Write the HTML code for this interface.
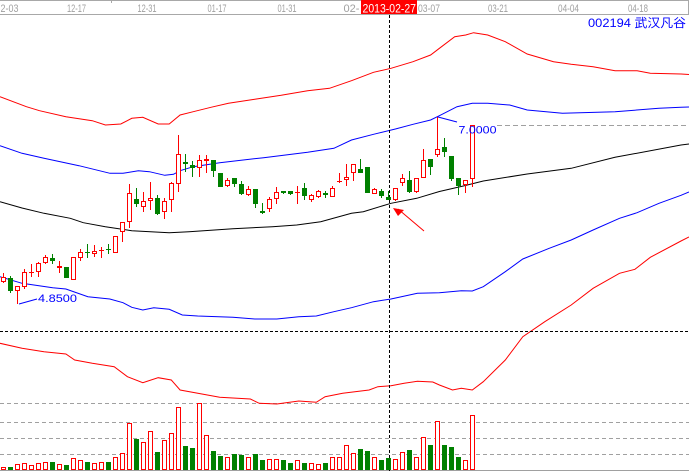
<!DOCTYPE html>
<html><head><meta charset="utf-8"><style>
html,body{margin:0;padding:0;background:#fff;}
svg{display:block;}
</style></head><body>
<svg width="689" height="471" viewBox="0 0 689 471" xmlns="http://www.w3.org/2000/svg">
<rect x="0" y="0" width="689" height="471" fill="#fff"/>
<line x1="0" y1="0.5" x2="689" y2="0.5" stroke="#a8a8a8"/>
<line x1="0" y1="14.5" x2="689" y2="14.5" stroke="#a8a8a8"/>
<line x1="688.5" y1="0" x2="688.5" y2="14" stroke="#a8a8a8"/>
<line x1="111.5" y1="0" x2="111.5" y2="3" stroke="#a8a8a8"/>
<g font-family="Liberation Sans, sans-serif" font-size="11" fill="#a0a0a0">
<text x="0.5" y="12" textLength="18" lengthAdjust="spacingAndGlyphs">2-03</text>
<text x="67" y="12" textLength="19" lengthAdjust="spacingAndGlyphs">12-17</text>
<text x="137.5" y="12" textLength="19" lengthAdjust="spacingAndGlyphs">12-31</text>
<text x="207.5" y="12" textLength="19" lengthAdjust="spacingAndGlyphs">01-17</text>
<text x="277.5" y="12" textLength="19" lengthAdjust="spacingAndGlyphs">01-31</text>
<text x="343.5" y="12" textLength="16" lengthAdjust="spacingAndGlyphs">02-</text>
<text x="418" y="12" textLength="22" lengthAdjust="spacingAndGlyphs">03-07</text>
<text x="488" y="12" textLength="20" lengthAdjust="spacingAndGlyphs">03-21</text>
<text x="558" y="12" textLength="21" lengthAdjust="spacingAndGlyphs">04-04</text>
<text x="628" y="12" textLength="20" lengthAdjust="spacingAndGlyphs">04-18</text>
</g>
<rect x="361" y="0" width="56" height="14" fill="#ff0000"/>
<text x="362.5" y="12.5" font-family="Liberation Sans, sans-serif" font-size="12" fill="#fff" textLength="53.5" lengthAdjust="spacingAndGlyphs">2013-02-27</text>
<text x="588" y="27" font-family="Liberation Sans, 'Noto Sans CJK SC', sans-serif" font-size="12" fill="#0000ff" textLength="98" lengthAdjust="spacingAndGlyphs">002194 武汉凡谷</text>

<g stroke="#a0a0a0" stroke-dasharray="4,3" shape-rendering="crispEdges">
<line x1="0" y1="403.5" x2="689" y2="403.5"/>
<line x1="0" y1="422.5" x2="689" y2="422.5"/>
<line x1="0" y1="438.5" x2="689" y2="438.5"/>
<line x1="0" y1="454.5" x2="689" y2="454.5"/>
</g>
<line x1="0" y1="470.5" x2="689" y2="470.5" stroke="#a0a0a0"/>

<g fill="none" stroke-width="1">
<polyline stroke="#ff0000" points="0,96.7 26.4,106.7 39.5,110.7 65.9,116.7 92.3,120.7 105.4,125 120.8,124 131.8,118.3 142.8,117.3 158.2,124 169.2,124 180.1,115 193.3,111.7 210.9,107.3 228.5,103.3 254.8,99.3 281.2,95.3 307.6,90.7 329.5,88.3 351.5,80.7 373.5,72.3 391,68.3 413,61.7 430.6,55 439.4,48.3 454.7,36.7 465.7,35 473.6,32.7 487.7,35 505.3,41.7 527.2,54 553.6,61.7 571.2,64.3 593.1,66.7 615.1,70.7 637.1,70.7 650.3,73.3 681,74 689,74.5"/>
<polyline stroke="#0000ff" points="0,145.7 22,153.3 44,158.3 79,165.7 110,173.3 123,173.3 138.4,170.7 149.4,171.7 164.8,175.3 173.5,174.3 180.1,170.7 193.3,166.7 219.7,162.7 263.6,157.7 307.6,152.3 333.9,148.3 351.5,140 373.5,134.3 395.4,129 413,124.3 430.6,120 439.4,115.7 457,106.7 472.3,103.3 487.7,103.3 509.7,105 527.2,110 562.4,113.3 615.1,111.7 659,108.3 681,107.3 689,107"/>
<polyline stroke="#000000" points="0,201.7 22,208 44,213.3 70.3,218.3 83.3,222.7 105.4,226.7 131.8,230.7 169.2,232.7 189,231.7 232.9,228.7 272.4,226.7 296.7,225 320.7,221.7 351.5,213.3 363.3,211.7 391,203.3 416.7,198.3 439.4,191.5 463.3,186 483.3,181 527.2,174 571.2,168.3 615,157.3 681,145 689,144"/>
<polyline stroke="#0000ff" points="0,276.7 22,283.3 52.7,287.7 65.9,289 87.9,296.7 109.8,299 123,302.7 131.8,307.3 142.8,310 153.8,307.7 169.2,309.3 182.3,315 197.7,316 232.9,317.3 254.8,319 276.8,319 298.8,316.7 316.3,316 333.9,311.7 351.5,307.7 373.5,301.7 391,299 417.4,293.3 439.4,292.7 461.3,290.7 472.3,291 483.3,286.7 505.3,271.7 522.8,259 549.2,248.3 571.2,240 593.1,230 619.5,218.3 637.1,212.7 659,203.3 681,195.3 689,192"/>
<polyline stroke="#ff0000" points="0,343.3 22,348.3 44,351.7 65.9,354 74.7,360 92.3,363.3 114.2,366.7 127.4,376.7 142.8,382.7 158.2,377.7 171.3,380 180.1,390 219.7,397.3 250.4,399 259.2,403.3 276.8,404 298.8,401 316.3,402.3 325.1,396.7 342.7,393.3 369.1,390 377.9,386.7 391,385.7 404.2,383.3 417.4,381.3 432.8,382 439.4,385 452.5,390 461.3,388.3 472.3,390 483.3,381.7 505.3,360 522.8,336.7 544.8,321.7 571.2,305 593.1,288.3 619.5,273.3 634.9,269.3 650.3,257.3 681,241 689,237"/>
</g>

<line x1="0" y1="331.5" x2="689" y2="331.5" stroke="#000" stroke-dasharray="3,2" shape-rendering="crispEdges"/>
<line x1="389.5" y1="15" x2="389.5" y2="471" stroke="#000" stroke-dasharray="3,2" shape-rendering="crispEdges"/>

<g shape-rendering="crispEdges">
<path fill="none" stroke="#ff0000" d="M3.5 273V283M17.5 286V304M24.5 269V289M31.5 264V277M38.5 262V277M45.5 255V264M59.5 261V273M73.5 257V280M80.5 249V261M94.5 245V257M101.5 247V258M115.5 236V253M122.5 222V242M129.5 184V228M143.5 192V212M150.5 182V210M164.5 198V219M171.5 182V212M178.5 135V192M199.5 155V177M206.5 155V173M227.5 178V187M248.5 186V196M269.5 197V212M276.5 187V204M297.5 186V204M311.5 194V202M318.5 190V198M332.5 186V197M339.5 173V183M346.5 164V186M353.5 164V181M374.5 188V194M395.5 188V201M402.5 174V186M416.5 178V193M423.5 149V178M437.5 117V157M465.5 180V193M472.5 125V187"/>
<path fill="none" stroke="#008000" d="M10.5 276V293M52.5 254V264M66.5 267V278M87.5 244V258M108.5 244V254M136.5 188V207M157.5 195V215M185.5 154V172M192.5 161V177M213.5 160V177M220.5 173V187M234.5 178V187M241.5 181V195M255.5 189V208M262.5 203V214M283.5 191V194M290.5 191V195M304.5 183V200M325.5 191V198M360.5 159V173M367.5 167V193M381.5 189V198M388.5 191V200M409.5 171V193M430.5 159V175M444.5 138V157M451.5 156V181M458.5 178V195"/>
<path fill="#fff" stroke="#ff0000" d="M1.5 277.5h4v4h-4zM15.5 286.5h4v4h-4zM22.5 272.5h4v14h-4zM36.5 263.5h4v8h-4zM43.5 257.5h4v5h-4zM71.5 257.5h4v22h-4zM78.5 252.5h4v5h-4zM92.5 251.5h4v2h-4zM113.5 236.5h4v16h-4zM120.5 222.5h4v9h-4zM127.5 193.5h4v28h-4zM141.5 201.5h4v5h-4zM148.5 198.5h4v2h-4zM162.5 201.5h4v10h-4zM169.5 183.5h4v16h-4zM176.5 154.5h4v29h-4zM197.5 160.5h4v7h-4zM225.5 180.5h4v5h-4zM246.5 189.5h4v5h-4zM267.5 199.5h4v9h-4zM274.5 192.5h4v6h-4zM309.5 195.5h4v4h-4zM316.5 191.5h4v5h-4zM330.5 188.5h4v8h-4zM344.5 177.5h4v2h-4zM351.5 164.5h4v8h-4zM372.5 189.5h4v4h-4zM393.5 188.5h4v11h-4zM400.5 178.5h4v4h-4zM414.5 178.5h4v13h-4zM421.5 160.5h4v17h-4zM435.5 149.5h4v5h-4zM463.5 180.5h4v4h-4zM470.5 125.5h4v53h-4z"/>
<path fill="#ff0000" d="M29 272h5v1h-5zM57 266h5v2h-5zM99 250h5v1h-5zM204 159h5v2h-5zM295 192h5v1h-5zM337 181h5v1h-5z"/>
<path fill="#008000" d="M8 278h5v13h-5zM50 258h5v3h-5zM64 267h5v11h-5zM85 252h5v1h-5zM106 249h5v1h-5zM134 199h5v5h-5zM155 198h5v16h-5zM183 162h5v2h-5zM190 165h5v3h-5zM211 160h5v11h-5zM218 173h5v14h-5zM232 178h5v6h-5zM239 184h5v10h-5zM253 189h5v15h-5zM260 211h5v2h-5zM281 191h5v2h-5zM288 191h5v3h-5zM302 188h5v8h-5zM323 193h5v2h-5zM358 169h5v4h-5zM365 167h5v26h-5zM379 191h5v5h-5zM386 197h5v3h-5zM407 180h5v12h-5zM428 159h5v8h-5zM442 147h5v5h-5zM449 156h5v23h-5zM456 178h5v8h-5z"/>
<path fill="#fff" stroke="#ff0000" d="M1.5 467.5h4v2h-4zM15.5 464.5h4v5h-4zM22.5 463.5h4v6h-4zM29.5 465.5h4v4h-4zM36.5 463.5h4v6h-4zM43.5 462.5h4v7h-4zM57.5 464.5h4v5h-4zM71.5 458.5h4v11h-4zM78.5 460.5h4v9h-4zM92.5 463.5h4v6h-4zM99.5 462.5h4v7h-4zM113.5 457.5h4v12h-4zM120.5 453.5h4v16h-4zM127.5 423.5h4v46h-4zM141.5 442.5h4v27h-4zM148.5 431.5h4v38h-4zM162.5 440.5h4v29h-4zM169.5 433.5h4v36h-4zM176.5 407.5h4v62h-4zM197.5 403.5h4v66h-4zM204.5 435.5h4v34h-4zM225.5 457.5h4v12h-4zM246.5 457.5h4v12h-4zM267.5 459.5h4v10h-4zM274.5 459.5h4v10h-4zM295.5 460.5h4v9h-4zM309.5 463.5h4v6h-4zM316.5 464.5h4v5h-4zM330.5 457.5h4v12h-4zM337.5 457.5h4v12h-4zM344.5 445.5h4v24h-4zM351.5 453.5h4v16h-4zM372.5 457.5h4v12h-4zM393.5 459.5h4v10h-4zM400.5 452.5h4v17h-4zM414.5 457.5h4v12h-4zM421.5 437.5h4v32h-4zM435.5 421.5h4v48h-4zM463.5 460.5h4v9h-4zM470.5 415.5h4v54h-4z"/>
<path fill="#008000" d="M8 467h5v3h-5zM50 462h5v8h-5zM64 465h5v5h-5zM85 462h5v8h-5zM106 462h5v8h-5zM134 439h5v31h-5zM155 452h5v18h-5zM183 446h5v24h-5zM190 448h5v22h-5zM211 451h5v19h-5zM218 456h5v14h-5zM232 454h5v16h-5zM239 455h5v15h-5zM253 454h5v16h-5zM260 460h5v10h-5zM281 460h5v10h-5zM288 463h5v7h-5zM302 463h5v7h-5zM323 463h5v7h-5zM358 449h5v21h-5zM365 451h5v19h-5zM379 460h5v10h-5zM386 458h5v12h-5zM407 450h5v20h-5zM428 445h5v25h-5zM442 445h5v25h-5zM449 447h5v23h-5zM456 457h5v13h-5z"/>
</g>

<line x1="19" y1="304" x2="37" y2="299" stroke="#0000ff"/>
<text x="38" y="302" font-family="Liberation Sans, sans-serif" font-size="11" fill="#0000ff" textLength="39" lengthAdjust="spacingAndGlyphs">4.8500</text>
<line x1="438" y1="117" x2="457" y2="122" stroke="#0000ff"/>
<text x="458.5" y="133.5" font-family="Liberation Sans, sans-serif" font-size="11" fill="#0000ff" textLength="38" lengthAdjust="spacingAndGlyphs">7.0000</text>
<line x1="497" y1="125.5" x2="689" y2="125.5" stroke="#a0a0a0" stroke-dasharray="5,3" shape-rendering="crispEdges"/>

<line x1="398" y1="209" x2="424" y2="231" stroke="#ff0000"/>
<polygon points="393,208 404,210 398,216" fill="#ff0000"/>
</svg>
</body></html>
